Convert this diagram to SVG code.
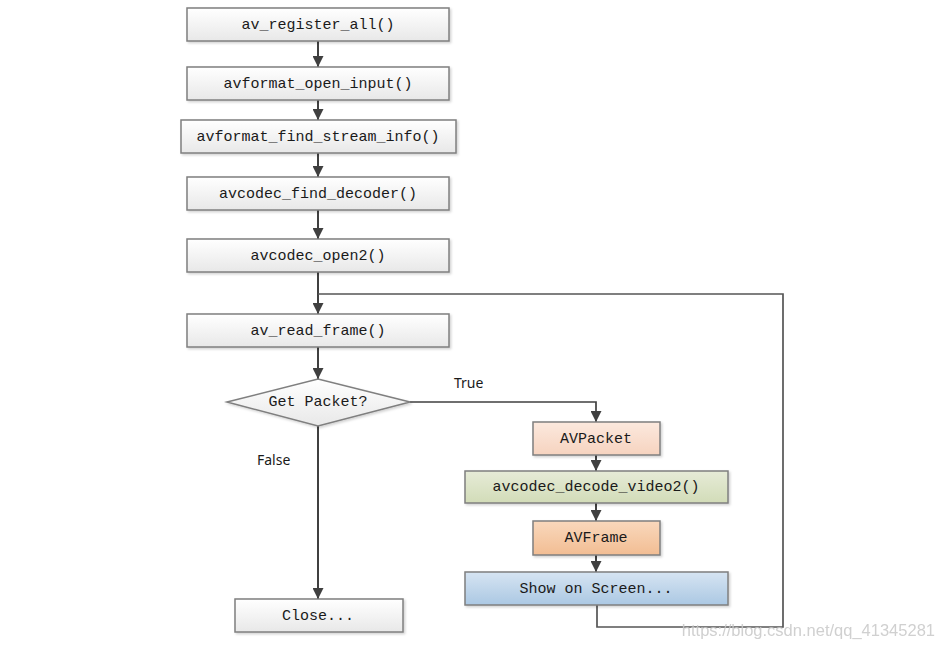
<svg xmlns="http://www.w3.org/2000/svg" width="941" height="647" viewBox="0 0 941 647">
<style>
.box{stroke:#7f7f7f;stroke-width:1.5}
.t{font-family:"Liberation Mono","DejaVu Sans Mono",monospace;font-size:15px;fill:#1a1a1a;text-anchor:middle;dominant-baseline:central}
.lbl{font-family:"Noto Sans","Liberation Sans",sans-serif;font-size:14px;fill:#1a1a1a}
.c{fill:none;stroke:#404040;stroke-width:2}
.lp{fill:none;stroke:#555;stroke-width:1.7}
</style>
<defs>
<linearGradient id="gw" x1="0" y1="0" x2="0" y2="1"><stop offset="0" stop-color="#ffffff"/><stop offset="1" stop-color="#e8e8e8"/></linearGradient>
<linearGradient id="gp" x1="0" y1="0" x2="0" y2="1"><stop offset="0" stop-color="#fce9de"/><stop offset="1" stop-color="#f6d3bf"/></linearGradient>
<linearGradient id="gg" x1="0" y1="0" x2="0" y2="1"><stop offset="0" stop-color="#e6ebd7"/><stop offset="1" stop-color="#d2dcb8"/></linearGradient>
<linearGradient id="go" x1="0" y1="0" x2="0" y2="1"><stop offset="0" stop-color="#f9d8bc"/><stop offset="1" stop-color="#f2bd93"/></linearGradient>
<linearGradient id="gb" x1="0" y1="0" x2="0" y2="1"><stop offset="0" stop-color="#d6e4f2"/><stop offset="1" stop-color="#abc8e3"/></linearGradient>
<filter id="sh" x="-5%" y="-20%" width="110%" height="150%"><feDropShadow dx="1.5" dy="1.5" stdDeviation="1" flood-color="#000" flood-opacity="0.18"/></filter>
<marker id="ar" viewBox="0 0 10 10" refX="10" refY="5" markerWidth="11" markerHeight="11" markerUnits="userSpaceOnUse" orient="auto"><path d="M0,0 L10,5 L0,10 Z" fill="#404040"/></marker>
</defs>
<g id="connectors">
<line class="c" x1="318" y1="41" x2="318" y2="67" marker-end="url(#ar)"/>
<line class="c" x1="318" y1="100" x2="318" y2="120" marker-end="url(#ar)"/>
<line class="c" x1="318" y1="153" x2="318" y2="177" marker-end="url(#ar)"/>
<line class="c" x1="318" y1="210" x2="318" y2="239" marker-end="url(#ar)"/>
<line class="c" x1="318" y1="272" x2="318" y2="314" marker-end="url(#ar)"/>
<line class="c" x1="318" y1="347" x2="318" y2="379" marker-end="url(#ar)"/>
<polyline class="c" points="410,402 596,402 596,422" marker-end="url(#ar)" style="stroke-width:1.7"/>
<line class="c" x1="318" y1="426" x2="318" y2="599" marker-end="url(#ar)"/>
<line class="c" x1="596" y1="455" x2="596" y2="471" marker-end="url(#ar)"/>
<line class="c" x1="596" y1="503" x2="596" y2="521" marker-end="url(#ar)"/>
<line class="c" x1="596" y1="555" x2="596" y2="572" marker-end="url(#ar)"/>
<polyline class="lp" points="597,605 597,627 783,627 783,294 318,294"/>
</g>
<g id="n1"><rect class="box" x="187" y="8" width="262" height="33" fill="url(#gw)" filter="url(#sh)"/><text class="t" x="318" y="25">av_register_all()</text></g>
<g id="n2"><rect class="box" x="187" y="67" width="262" height="33" fill="url(#gw)" filter="url(#sh)"/><text class="t" x="318" y="84">avformat_open_input()</text></g>
<g id="n3"><rect class="box" x="181" y="120" width="275" height="33" fill="url(#gw)" filter="url(#sh)"/><text class="t" x="318" y="137">avformat_find_stream_info()</text></g>
<g id="n4"><rect class="box" x="187" y="177" width="262" height="33" fill="url(#gw)" filter="url(#sh)"/><text class="t" x="318" y="194">avcodec_find_decoder()</text></g>
<g id="n5"><rect class="box" x="187" y="239" width="262" height="33" fill="url(#gw)" filter="url(#sh)"/><text class="t" x="318" y="256">avcodec_open2()</text></g>
<g id="n6"><rect class="box" x="187" y="314" width="262" height="33" fill="url(#gw)" filter="url(#sh)"/><text class="t" x="318" y="331">av_read_frame()</text></g>
<g id="n7"><polygon class="box" points="227,402 318,379 410,402 318,426" fill="url(#gw)" filter="url(#sh)"/><text class="t" x="318" y="402">Get Packet?</text></g>
<g id="n8"><rect class="box" x="235" y="599" width="168" height="33" fill="url(#gw)" filter="url(#sh)"/><text class="t" x="318" y="616">Close...</text></g>
<g id="n9"><rect class="box" x="533" y="422" width="127" height="33" fill="url(#gp)" filter="url(#sh)"/><text class="t" x="596" y="439">AVPacket</text></g>
<g id="n10"><rect class="box" x="465" y="471" width="263" height="32" fill="url(#gg)" filter="url(#sh)"/><text class="t" x="596" y="487">avcodec_decode_video2()</text></g>
<g id="n11"><rect class="box" x="533" y="521" width="127" height="34" fill="url(#go)" filter="url(#sh)"/><text class="t" x="596" y="538">AVFrame</text></g>
<g id="n12"><rect class="box" x="465" y="572" width="263" height="33" fill="url(#gb)" filter="url(#sh)"/><text class="t" x="596" y="589">Show on Screen...</text></g>
<text class="lbl" x="454" y="388">True</text>
<text class="lbl" x="257" y="465">False</text>
<text x="935" y="636" text-anchor="end" font-family="Liberation Sans,sans-serif" font-size="16.5" fill="#c8c8c8" opacity="0.85">https://blog.csdn.net/qq_41345281</text>
</svg>
